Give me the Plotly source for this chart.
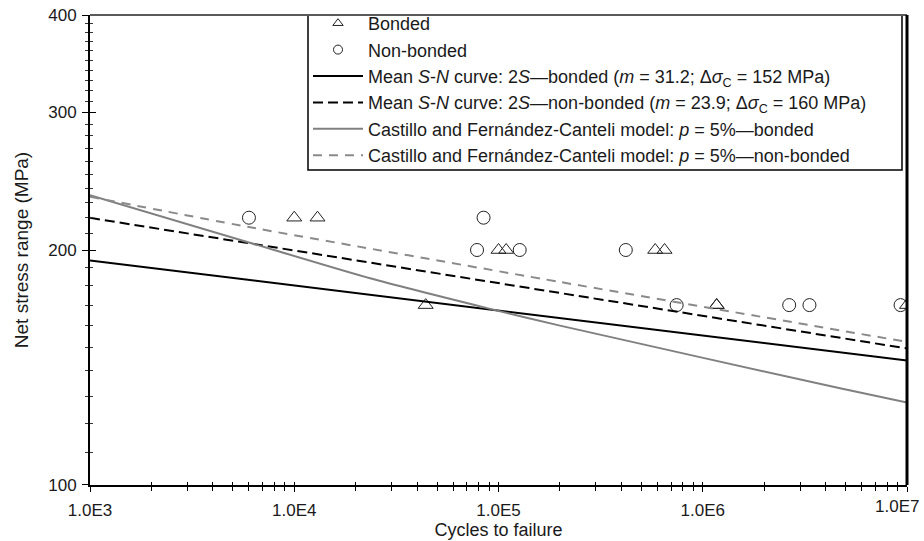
import numpy as np
import plotly.graph_objects as go

# ---- test data (cycles to failure, net stress range in MPa) ----
bonded_N = [1.0e4, 1.3e4, 4.4e4, 1.0e5, 1.09e5, 5.85e5, 6.5e5, 1.17e6, 1.17e6, 1.0e7]
bonded_S = [220, 220, 170, 200, 200, 200, 200, 170, 170, 170]

nonbonded_N = [6.0e3, 7.85e4, 8.45e4, 1.27e5, 4.2e5, 7.45e5, 2.65e6, 3.33e6, 9.3e6]
nonbonded_S = [220, 200, 220, 200, 200, 170, 170, 170, 170]

# ---- mean S-N curves: N = 2e6 * (S / dsigma_c)^(-m) ----
N_ref = 2.0e6
N_range = [1.0e3, 1.0e7]
m_bonded, dsc_bonded = 31.2, 152.0
m_nonbonded, dsc_nonbonded = 23.9, 160.0

# ---- Castillo & Fernandez-Canteli 5 % percentile curves ----
cfc_bonded_N = [1.0e3, 6.0e3, 2.35e4, 8.8e4, 2.0e5, 4.7e6, 1.0e7]
cfc_bonded_S = [235, 204.5, 184, 168.5, 160, 133, 127.5]
cfc_nonbonded_N = [1.0e3, 6.0e3, 2.0e5, 1.0e7]
cfc_nonbonded_S = [234, 214, 182, 152.5]

# ---- axis ticks ----
x_tickvals = [1e3, 1e4, 1e5, 1e6, 1e7]
x_ticktext = ["1.0E3", "1.0E4", "1.0E5", "1.0E6", "1.0E7"]
y_tickvals = [100, 200, 300, 400]
y_ticktext = ["100", "200", "300", "400"]


def mean_curve(m, dsc):
    n = np.array(N_range)
    return n, dsc * (n / N_ref) ** (-1.0 / m)


FONT = "Liberation Sans, Arial, sans-serif"
TXT = "#1a1a1a"

LBL_MEAN_B = ("Mean <i>S</i>-<i>N</i> curve: 2<i>S</i>\u2014bonded (<i>m</i> = 31.2; "
              "\u0394<i>\u03c3</i><sub>C</sub> = 152 MPa)")
LBL_MEAN_NB = ("Mean <i>S</i>-<i>N</i> curve: 2<i>S</i>\u2014non-bonded (<i>m</i> = 23.9; "
               "\u0394<i>\u03c3</i><sub>C</sub> = 160 MPa)")
LBL_CFC_B = "Castillo and Fern\u00e1ndez-Canteli model: <i>p</i> = 5%\u2014bonded"
LBL_CFC_NB = "Castillo and Fern\u00e1ndez-Canteli model: <i>p</i> = 5%\u2014non-bonded"

MK = "#222"

# figure geometry (px)
W, H = 924, 541
ML, MR, MT, MB = 90, 17, 15, 56
PW, PH = W - ML - MR, H - MT - MB

fig = go.Figure()

# test points (the legend uses smaller proxy symbols)
fig.add_trace(go.Scatter(
    x=bonded_N, y=bonded_S, mode="markers", name="Bonded", showlegend=False,
    marker=dict(symbol="triangle-up-open", size=13, color=MK, line=dict(width=1, color=MK)),
))
fig.add_trace(go.Scatter(
    x=nonbonded_N, y=nonbonded_S, mode="markers", name="Non-bonded", showlegend=False,
    marker=dict(symbol="circle-open", size=13, color=MK, line=dict(width=1, color=MK)),
))
fig.add_trace(go.Scatter(
    x=[None], y=[None], mode="markers", name="Bonded", legendrank=1,
    marker=dict(symbol="triangle-up-open", size=9, color=MK, line=dict(width=1, color=MK)),
))
fig.add_trace(go.Scatter(
    x=[None], y=[None], mode="markers", name="Non-bonded", legendrank=2,
    marker=dict(symbol="circle-open", size=9, color=MK, line=dict(width=1, color=MK)),
))

nb, sb = mean_curve(m_bonded, dsc_bonded)
fig.add_trace(go.Scatter(
    x=nb, y=sb, mode="lines", name=LBL_MEAN_B, legendrank=3,
    line=dict(color="black", width=2),
))
nn, sn = mean_curve(m_nonbonded, dsc_nonbonded)
fig.add_trace(go.Scatter(
    x=nn, y=sn, mode="lines", name=LBL_MEAN_NB, legendrank=4,
    line=dict(color="black", width=2, dash="10px,5px"),
))
fig.add_trace(go.Scatter(
    x=cfc_bonded_N, y=cfc_bonded_S, mode="lines", name=LBL_CFC_B, legendrank=5,
    line=dict(color="#808080", width=2, shape="spline", smoothing=0.6),
))
fig.add_trace(go.Scatter(
    x=cfc_nonbonded_N, y=cfc_nonbonded_S, mode="lines", name=LBL_CFC_NB, legendrank=6,
    line=dict(color="#8a8a8a", width=2, dash="9px,7px", shape="spline", smoothing=0.6),
))

x_minor = [k * 10 ** d for d in range(3, 7) for k in range(2, 10)]
y_minor = [v for v in range(110, 400, 10) if v not in (200, 300)]

eps = 1e-5
xr = [3 - eps, 7 + eps]
yr = [2 - eps, np.log10(400) + eps]

TICKF = dict(size=17, color=TXT)

# the last x label is kept inside the figure, right-aligned
x_ticktext_axis = x_ticktext[:-1] + [""]

fig.update_layout(
    width=W, height=H,
    margin=dict(l=ML, r=MR, t=MT, b=MB, autoexpand=False),
    paper_bgcolor="white", plot_bgcolor="white",
    font=dict(family=FONT, size=17, color=TXT),
    showlegend=True,
    legend=dict(
        x=(308 - ML) / PW, y=1 + (MT - 5) / PH, xanchor="left", yanchor="top",
        bgcolor="rgba(0,0,0,0)", borderwidth=0,
        font=dict(family=FONT, size=18, color=TXT),
        itemwidth=50, tracegroupgap=0, traceorder="normal",
    ),
    xaxis=dict(
        type="log", range=xr, tickmode="array", tickvals=x_tickvals,
        ticktext=x_ticktext_axis, ticks="outside", ticklen=5, tickwidth=1,
        tickcolor="black", showgrid=False, zeroline=False,
        showline=True, linecolor="black", linewidth=1.5,
        tickfont=TICKF, ticklabelstandoff=4,
        title=dict(text="Cycles to failure", font=dict(size=18, color=TXT), standoff=0),
        minor=dict(tickmode="array", tickvals=x_minor, ticks="outside",
                   ticklen=4, tickwidth=1, tickcolor="black", showgrid=False),
    ),
    xaxis2=dict(
        type="log", range=xr, overlaying="x", anchor="y", side="bottom",
        tickmode="array", tickvals=x_tickvals, showticklabels=False,
        ticks="inside", ticklen=3, tickwidth=1, tickcolor="black",
        showgrid=False, zeroline=False, showline=False,
        minor=dict(tickmode="array", tickvals=x_minor, ticks="inside",
                   ticklen=3, tickwidth=1, tickcolor="black", showgrid=False),
    ),
    yaxis=dict(
        type="log", range=yr, tickmode="array", tickvals=y_tickvals,
        ticktext=y_ticktext, ticks="outside", ticklen=6, tickwidth=1,
        tickcolor="black", showgrid=False, zeroline=False,
        showline=True, linecolor="black", linewidth=2,
        tickfont=TICKF, ticklabelstandoff=2,
        title=dict(text="Net stress range (MPa)", font=dict(size=19, color=TXT), standoff=15),
        minor=dict(tickmode="array", tickvals=y_minor, ticks="outside",
                   ticklen=3, tickwidth=1, tickcolor="#333", showgrid=False),
    ),
    yaxis2=dict(
        type="log", range=yr, overlaying="y", anchor="x", side="left",
        tickmode="array", tickvals=y_tickvals, showticklabels=False,
        ticks="inside", ticklen=6, tickwidth=1, tickcolor="black",
        showgrid=False, zeroline=False, showline=False,
        minor=dict(tickmode="array", tickvals=y_minor, ticks="inside",
                   ticklen=3, tickwidth=1, tickcolor="#333", showgrid=False),
    ),
    shapes=[
        # legend frame
        dict(type="rect", xref="paper", yref="paper",
             x0=(308 - ML) / PW, x1=(902 - ML) / PW, y0=(MT + PH - 170) / PH, y1=1,
             fillcolor="white", line=dict(color="black", width=1.5), layer="above"),
        # plot frame: grey top edge, heavy right edge
        dict(type="line", xref="paper", yref="paper", x0=0, x1=1, y0=1, y1=1,
             line=dict(color="#5a5a5a", width=2), layer="above"),
        dict(type="line", xref="paper", yref="paper", x0=1, x1=1, y0=0, y1=1,
             line=dict(color="black", width=3), layer="above"),
    ],
    annotations=[
        dict(text=x_ticktext[-1], xref="paper", yref="paper",
             x=(921 - ML) / PW, y=0, xanchor="right", yanchor="middle",
             yshift=-21, showarrow=False, font=TICKF),
    ],
)

# invisible anchor trace so the overlay axes are rendered
fig.add_trace(go.Scatter(x=[1e3], y=[100], xaxis="x2", yaxis="y2", mode="markers",
                         marker=dict(opacity=0), showlegend=False, hoverinfo="skip"))

fig.write_html("out.html")
